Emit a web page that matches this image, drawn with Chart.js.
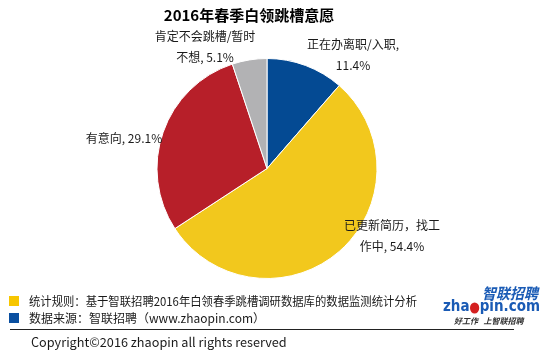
<!DOCTYPE html>
<html>
<head>
<meta charset="utf-8">
<script src="https://cdn.jsdelivr.net/npm/chart.js@4/dist/chart.umd.min.js"></script>
<style>
  html, body { margin: 0; padding: 0; background: #fff; }
  #wrap { width: 554px; height: 354px; position: relative; }
</style>
</head>
<body>
<div id="wrap"><canvas id="myChart" width="554" height="354"></canvas></div>
<script>
// data
var categories = ['正在办离职/入职', '已更新简历，找工作中', '有意向', '肯定不会跳槽/暂时不想'];
var shares = [11.4, 54.4, 29.1, 5.1];
var sliceColors = ['#044a93', '#f2c81d', '#b71f29', '#b2b2b4'];
// label lines per slice, as Excel wrapped them
var labelLines = [
  ['正在办离职/入职,', '11.4%'],
  ['已更新简历，找工', '作中, 54.4%'],
  ['有意向, 29.1%'],
  ['肯定不会跳槽/暂时', '不想, 5.1%']
];
// offset of each label block from the pie centre
var labelOffsets = [[86, -114], [125, 67], [-143, -30], [-62, -122]];

var title = '2016年春季白领跳槽意愿';
var notes = ['统计规则：基于智联招聘2016年白领春季跳槽调研数据库的数据监测统计分析',
             '数据来源：智联招聘（www.zhaopin.com）'];
var noteWidths = [388, 236];
var noteColors = ['#f7c600', '#0a4fa0'];
var copyright = 'Copyright©2016 zhaopin all rights reserved';

var FONT = '"Noto Sans CJK SC", "Microsoft YaHei", sans-serif';

function drawLogo(ctx) {
  // 智联招聘 wordmark
  ctx.fillStyle = '#1a5bb5';
  ctx.font = 'italic bold 15px ' + FONT;
  ctx.fillText('智联招聘', 482, 293, 56);

  // zha(o)pin.com with the red ball for the o, squeezed to 97px
  ctx.font = 'bold 16px "DejaVu Sans", sans-serif';
  var w1 = ctx.measureText('zha').width;
  var w2 = ctx.measureText('pin.com').width;
  var ball = 12;
  var sx = 97 / (w1 + ball + w2);
  ctx.save();
  ctx.translate(443, 307);
  ctx.scale(sx, 1);
  ctx.fillText('zha', 0, 0);
  ctx.fillStyle = '#d42020';
  ctx.beginPath();
  ctx.arc(w1 + ball / 2, 1, 5.5, 0, Math.PI * 2);
  ctx.fill();
  ctx.fillStyle = '#1a5bb5';
  ctx.fillText('pin.com', w1 + ball, 0);
  ctx.restore();

  ctx.fillStyle = '#333';
  ctx.font = 'italic bold 8px ' + FONT;
  ctx.fillText('好工作   上智联招聘', 454, 321, 72);
}

var decor = {
  id: 'decor',
  afterDraw: function(chart) {
    var ctx = chart.ctx;
    var arcs = chart.getDatasetMeta(0).data;
    ctx.save();
    ctx.textBaseline = 'middle';

    // title
    ctx.fillStyle = '#000';
    ctx.font = 'bold 15px ' + FONT;
    ctx.textAlign = 'center';
    ctx.fillText(title, 249, 15);

    // slice labels
    ctx.font = '12px ' + FONT;
    ctx.fillStyle = '#1a1a1a';
    arcs.forEach(function(arc, i) {
      var lines = labelLines[i];
      var cx = arc.x + labelOffsets[i][0];
      var cy = arc.y + labelOffsets[i][1];
      lines.forEach(function(t, j) {
        ctx.fillText(t, cx, cy + (j - (lines.length - 1) / 2) * 21);
      });
    });

    // footer notes
    ctx.textAlign = 'left';
    ctx.font = '12px ' + FONT;
    notes.forEach(function(t, i) {
      var y = 301 + i * 17;
      ctx.fillStyle = noteColors[i];
      ctx.fillRect(9, y - 5, 10, 10);
      ctx.fillStyle = '#1a1a1a';
      ctx.fillText(t, 29, y, noteWidths[i]);
    });

    // rule
    ctx.strokeStyle = '#222';
    ctx.lineWidth = 1;
    ctx.beginPath();
    ctx.moveTo(10, 329.5);
    ctx.lineTo(514, 329.5);
    ctx.stroke();

    ctx.fillStyle = '#1a1a1a';
    ctx.font = '12.7px ' + FONT;
    ctx.fillText(copyright, 31, 342);

    drawLogo(ctx);
    ctx.restore();
  }
};

var ctx = document.getElementById('myChart');
var chart = new Chart(ctx, {
  type: 'pie',
  data: {
    labels: categories,
    datasets: [{
      data: shares,
      backgroundColor: sliceColors,
      borderColor: '#ffffff',
      borderWidth: 1
    }]
  },
  options: {
    responsive: false,
    animation: false,
    layout: { padding: { left: 156, right: 176, top: 58, bottom: 75 } },
    plugins: {
      legend: { display: false },
      tooltip: { enabled: false },
      title: { display: false }
    }
  },
  plugins: [decor]
});
</script>
</body>
</html>
